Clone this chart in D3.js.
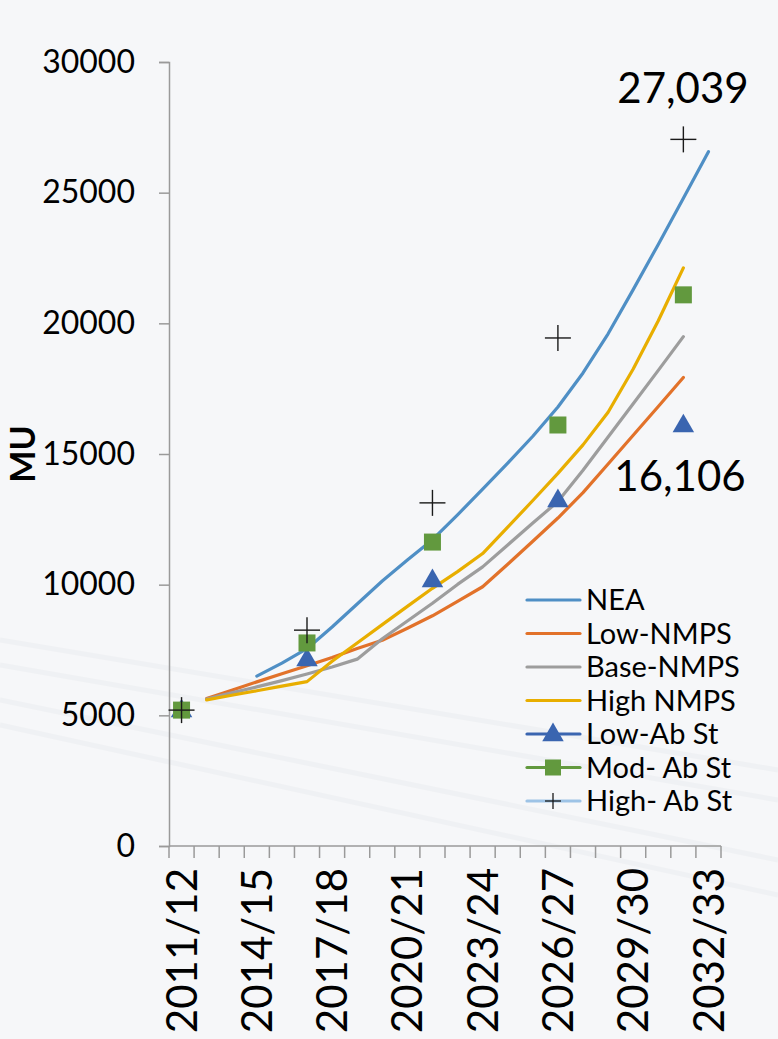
<!DOCTYPE html>
<html>
<head>
<meta charset="utf-8">
<script src="https://cdnjs.cloudflare.com/ajax/libs/d3/7.8.5/d3.min.js"></script>
<style>
  body { margin: 0; background: #f6f7f9; }
  svg { display: block; font-family: Lato, "Open Sans", sans-serif; }
</style>
</head>
<body>
<div id="container"></div>
<script>
// categories (financial years)
const years = ["2011/12","2012/13","2013/14","2014/15","2015/16","2016/17","2017/18","2018/19",
  "2019/20","2020/21","2021/22","2022/23","2023/24","2024/25","2025/26","2026/27","2027/28",
  "2028/29","2029/30","2030/31","2031/32","2032/33"];
const tickYears = ["2011/12","2014/15","2017/18","2020/21","2023/24","2026/27","2029/30","2032/33"];
const yTicks = [0, 5000, 10000, 15000, 20000, 25000, 30000];

// line series (null = no value)
const nea = [null,null,null,6500,7000,7550,8380,9260,10140,10940,11720,12670,13660,14650,15680,16800,18100,19600,21290,23020,24790,26570];
const lowNmps = [null,5640,5960,6280,6590,6900,7210,7560,7870,8330,8810,9360,9920,10780,11660,12550,13520,14620,15720,16820,17930,null];
const baseNmps = [null,5620,5860,6090,6330,6580,6850,7150,7930,8610,9290,10010,10680,11520,12360,13180,14380,15650,16920,18200,19490,null];
const highNmps = [null,5590,5770,5940,6120,6290,7070,7770,8470,9170,9860,10500,11190,12200,13220,14260,15350,16600,18250,20100,22120,null];

// marker-only series
const abYears = ["2011/12","2016/17","2021/22","2026/27","2031/32"];
const lowAb = [5200,7150,10180,13240,16106];
const modAb = [5200,7770,11630,16110,21090];
const highAb = [5200,8260,13130,19440,27039];

const width = 778, height = 1039;
const plotLeft = 169, plotRight = 721, plotTop = 62, plotBottom = 846;

const svg = d3.select("#container").append("svg")
  .attr("width", width).attr("height", height);

svg.append("rect").attr("width", width).attr("height", height).attr("fill", "#f6f7f9");

// faint background streaks
[[0,640,778,770],[0,665,778,800],[0,700,778,860],[0,725,778,895]].forEach(function(s){
  svg.append("line").attr("x1",s[0]).attr("y1",s[1]).attr("x2",s[2]).attr("y2",s[3])
    .attr("stroke","#eceef1").attr("stroke-width",5).attr("opacity",0.6);
});

const x = d3.scaleBand().domain(years).range([plotLeft, plotRight]).padding(0);
const y = d3.scaleLinear().domain([0, 30000]).range([plotBottom, plotTop]);
const cx = d => x(d) + x.bandwidth() / 2;

// Y axis
const yAxis = d3.axisLeft(y).tickValues(yTicks).tickSize(10).tickPadding(24).tickFormat(d3.format("d"));
const gy = svg.append("g").attr("transform", "translate(" + plotLeft + ",0)").call(yAxis);
gy.select(".domain").attr("stroke", "#9a9a9a").attr("stroke-width", 1.5);
gy.selectAll(".tick line").attr("stroke", "#9a9a9a").attr("stroke-width", 1.5);
gy.selectAll(".tick text").attr("font-size", 32).attr("fill", "#000")
  .attr("font-family", "Lato, sans-serif");

// X axis: ticks on band boundaries
svg.append("line").attr("x1", plotLeft).attr("x2", plotRight).attr("y1", plotBottom).attr("y2", plotBottom)
  .attr("stroke", "#9a9a9a").attr("stroke-width", 1.5);
const bounds = years.map(d => x(d)).concat([plotRight]);
svg.selectAll(".xtick").data(bounds).enter().append("line")
  .attr("x1", d => d).attr("x2", d => d).attr("y1", plotBottom).attr("y2", plotBottom + 12)
  .attr("stroke", "#9a9a9a").attr("stroke-width", 1.5);

svg.selectAll(".xlabel").data(tickYears).enter().append("text")
  .attr("transform", d => "translate(" + cx(d) + ",868) rotate(-90)")
  .attr("text-anchor", "end")
  .attr("dy", "0.36em")
  .attr("font-size", 42)
  .attr("fill", "#000")
  .text(d => d);

// Y title
svg.append("text")
  .attr("transform", "translate(35,454) rotate(-90)")
  .attr("text-anchor", "middle")
  .attr("font-size", 34).attr("font-weight", "bold")
  .text("MU");

// lines
const series = [
  { name: "NEA", values: nea, color: "#4f8fc5" },
  { name: "Low-NMPS", values: lowNmps, color: "#e2722a" },
  { name: "Base-NMPS", values: baseNmps, color: "#9d9d9d" },
  { name: "High NMPS", values: highNmps, color: "#e8ae00" }
];
const line = d3.line()
  .defined(d => d.v != null)
  .x(d => cx(d.year))
  .y(d => y(d.v));

series.forEach(function(s){
  svg.append("path")
    .datum(years.map((yr, i) => ({ year: yr, v: s.values[i] })))
    .attr("d", line)
    .attr("fill", "none")
    .attr("stroke", s.color)
    .attr("stroke-width", 3.2)
    .attr("stroke-linejoin", "round")
    .attr("stroke-linecap", "round");
});

// marker series
const tri = d3.symbol().type(d3.symbolTriangle).size(200);
svg.selectAll(".tri").data(abYears).enter().append("path")
  .attr("d", tri)
  .attr("transform", (d, i) => "translate(" + cx(d) + "," + (y(lowAb[i]) + 1) + ")")
  .attr("fill", "#3a65b0");

svg.selectAll(".sq").data(abYears).enter().append("rect")
  .attr("x", d => cx(d) - 8.5)
  .attr("y", (d, i) => y(modAb[i]) - 8.5)
  .attr("width", 17).attr("height", 17)
  .attr("fill", "#62993e");

const plus = svg.selectAll(".plus").data(abYears).enter().append("g")
  .attr("transform", (d, i) => "translate(" + cx(d) + "," + y(highAb[i]) + ")");
plus.append("line").attr("x1", -13).attr("x2", 13).attr("stroke", "#1a1a1a").attr("stroke-width", 1.4);
plus.append("line").attr("y1", -13).attr("y2", 13).attr("stroke", "#1a1a1a").attr("stroke-width", 1.4);

// data labels
svg.append("text").attr("x", 683).attr("y", 103).attr("text-anchor", "middle")
  .attr("font-size", 42).attr("fill", "#000").text(d3.format(",")(highAb[4]));
svg.append("text").attr("x", 680).attr("y", 491).attr("text-anchor", "middle")
  .attr("font-size", 42).attr("fill", "#000").text(d3.format(",")(lowAb[4]));

// legend
const legendItems = [
  { name: "NEA", color: "#4f8fc5", mark: null },
  { name: "Low-NMPS", color: "#e2722a", mark: null },
  { name: "Base-NMPS", color: "#9d9d9d", mark: null },
  { name: "High NMPS", color: "#e8ae00", mark: null },
  { name: "Low-Ab St", color: "#3a65b0", mark: "tri" },
  { name: "Mod- Ab St", color: "#62993e", mark: "sq" },
  { name: "High- Ab St", color: "#9dc3e6", mark: "plus" }
];
const legend = svg.append("g").attr("id", "legend");
legendItems.forEach(function(d, i){
  const ly = 600 + i * 33.5;
  const g = legend.append("g");
  g.append("line").attr("x1", 527).attr("x2", 580).attr("y1", ly).attr("y2", ly)
    .attr("stroke", d.color).attr("stroke-width", 3.2).attr("stroke-linecap", "round");
  if (d.mark === "tri") {
    g.append("path").attr("d", tri).attr("transform", "translate(553," + (ly + 1) + ")").attr("fill", d.color);
  } else if (d.mark === "sq") {
    g.append("rect").attr("x", 545).attr("y", ly - 8).attr("width", 16).attr("height", 16).attr("fill", d.color);
  } else if (d.mark === "plus") {
    g.append("line").attr("x1", 545).attr("x2", 561).attr("y1", ly).attr("y2", ly).attr("stroke", "#1a1a1a").attr("stroke-width", 1.3);
    g.append("line").attr("x1", 553).attr("x2", 553).attr("y1", ly - 8).attr("y2", ly + 8).attr("stroke", "#1a1a1a").attr("stroke-width", 1.3);
  }
  g.append("text").attr("x", 586).attr("y", ly).attr("dy", "0.36em")
    .attr("font-size", 29).attr("fill", "#000").text(d.name);
});
</script>
</body>
</html>
